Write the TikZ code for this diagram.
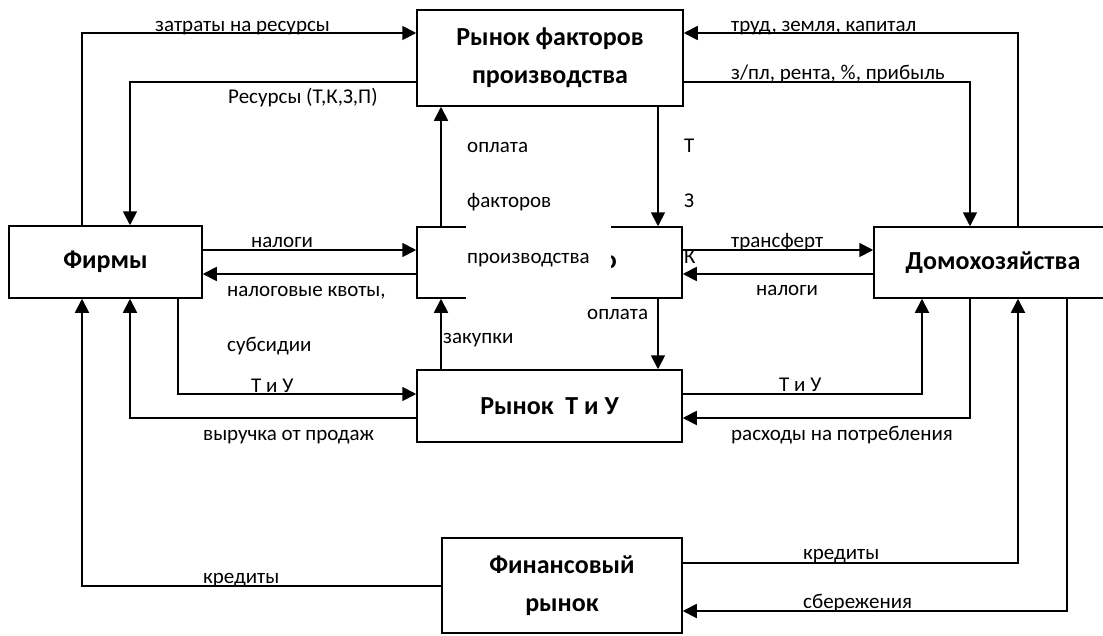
\documentclass[tikz,border=0pt]{standalone}
\usepackage{fontspec}
\setmainfont{Carlito}
\usetikzlibrary{arrows.meta}
\begin{document}
\begin{tikzpicture}[x=1pt,y=-1pt,
  box/.style={draw,line width=1.5pt,inner sep=0pt,align=center,font=\bfseries\fontsize{26}{38}\selectfont},
  arr/.style={line width=1.8pt,-{Triangle[length=14pt,width=14pt]}},
  lbl/.style={anchor=base west,inner sep=0pt,font=\fontsize{21}{24}\selectfont}]
\useasboundingbox (0,0) rectangle (1103,635);
% boxes
\node[box,minimum width=266pt,minimum height=96pt] (rfp) at (550,58) {Рынок факторов\\производства};
\node[box,minimum width=193pt,minimum height=72pt] (firms) at (105.5,262) {Фирмы};
\node[box,minimum width=265pt,minimum height=71pt] (gov) at (549.5,262.5) {Государство};
\node[box,minimum width=238pt,minimum height=71pt] (hh) at (993,262.5) {Домохозяйства};
\node[box,minimum width=265pt,minimum height=72pt] (tu) at (549.5,406) {Рынок\ \ Т и У};
\node[box,minimum width=240pt,minimum height=95pt] (fin) at (562,585.5) {Финансовый\\рынок};
% white text box over the government box
\fill[white] (466,120) rectangle (611,302);
% columns and rows
\coordinate (cA) at (82,0);
\coordinate (cB) at (130,0);
\coordinate (cC) at (178,0);
\coordinate (cD) at (441,0);
\coordinate (cE) at (658,0);
\coordinate (cF) at (922,0);
\coordinate (cG) at (970,0);
\coordinate (cH) at (1018,0);
\coordinate (cI) at (1067,0);
\coordinate (r1) at (0,33);
\coordinate (r2) at (0,82);
\coordinate (r3) at (0,250);
\coordinate (r4) at (0,274);
\coordinate (r5) at (0,394);
\coordinate (r6) at (0,418);
\coordinate (r7) at (0,563);
\coordinate (r8) at (0,586);
\coordinate (r9) at (0,611);
% labels
\node[lbl] (l1) at (155,31) {затраты на ресурсы};
\node[lbl] (l2) at (228,103) {Ресурсы (Т,К,З,П)};
\node[lbl] (l3) at (731,31) {труд, земля, капитал};
\node[lbl] (l4) at (731,79) {з/пл, рента, \%, прибыль};
\node[lbl] (l5) at (251,247) {налоги};
\node[lbl] (l6) at (227,296) {налоговые квоты,};
\node[lbl] (l7) at (227,351) {субсидии};
\node[lbl] (l8) at (467,152) {оплата};
\node[lbl] (l9) at (467,207) {факторов};
\node[lbl] (l10) at (467,263) {производства};
\node[lbl] (l11) at (684,152) {Т};
\node[lbl] (l12) at (684,207) {З};
\node[lbl] (l13) at (684,263) {К};
\node[lbl] (l14) at (443,343) {закупки};
\node[lbl] (l15) at (587,319) {оплата};
\node[lbl] (l16) at (731,247) {трансферт};
\node[lbl] (l17) at (756,295) {налоги};
\node[lbl] (l18) at (251,392) {Т и У};
\node[lbl] (l19) at (203,440) {выручка от продаж};
\node[lbl] (l20) at (779,391) {Т и У};
\node[lbl] (l21) at (731,440) {расходы на потребления};
\node[lbl] (l22) at (203,583) {кредиты};
\node[lbl] (l23) at (803,559) {кредиты};
\node[lbl] (l24) at (803,608) {сбережения};
% connectors
\draw[arr] (firms.north -| cA) |- (rfp.west |- r1);
\draw[arr] (rfp.west |- r2) -| (firms.north -| cB);
\draw[arr] (hh.north -| cH) |- (rfp.east |- r1);
\draw[arr] (rfp.east |- r2) -| (hh.north -| cG);
\draw[arr] (firms.east |- r3) -- (gov.west |- r3);
\draw[arr] (gov.west |- r4) -- (firms.east |- r4);
\draw[arr] (gov.east |- r3) -- (hh.west |- r3);
\draw[arr] (hh.west |- r4) -- (gov.east |- r4);
\draw[arr] (gov.north -| cD) -- (rfp.south -| cD);
\draw[arr] (rfp.south -| cE) -- (gov.north -| cE);
\draw[arr] (tu.north -| cD) -- (gov.south -| cD);
\draw[arr] (gov.south -| cE) -- (tu.north -| cE);
\draw[arr] (firms.south -| cC) |- (tu.west |- r5);
\draw[arr] (tu.west |- r6) -| (firms.south -| cB);
\draw[arr] (tu.east |- r5) -| (hh.south -| cF);
\draw[arr] (hh.south -| cG) |- (tu.east |- r6);
\draw[arr] (fin.west |- r8) -| (firms.south -| cA);
\draw[arr] (fin.east |- r7) -| (hh.south -| cH);
\draw[arr] (hh.south -| cI) |- (fin.east |- r9);
\end{tikzpicture}
\end{document}
